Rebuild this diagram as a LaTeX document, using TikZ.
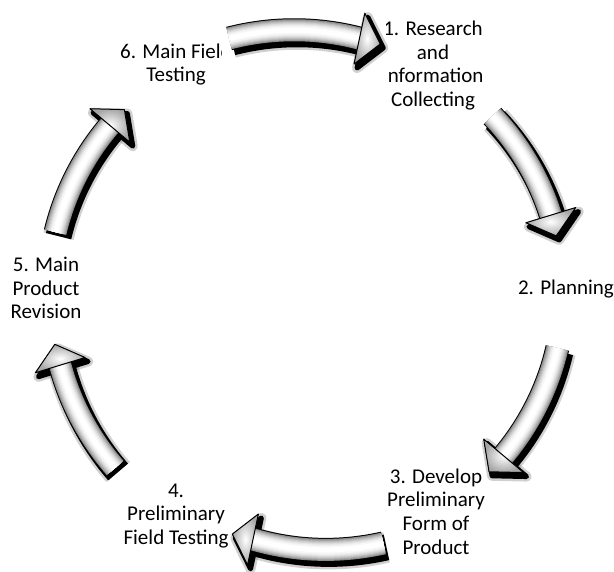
\documentclass[tikz,border=0pt]{standalone}
\usepackage{fontspec}
\setmainfont{Carlito}
\tikzset{
  lbl/.style={font=\fontsize{21}{23.7}\selectfont, align=center, inner sep=0pt, text=black},
  maskbox/.style={fill=white, draw=none},
}
\def\cxx{306}\def\cyy{290}
\newcommand{\spiralplot}{plot[domain=\aA:\aE, samples=40, variable=\t] ({\cxx+(\rA+(\rB-\rA)*(\t-\aA)/(\aB-\aA))*cos(\t)},{\cyy+(\rA+(\rB-\rA)*(\t-\aA)/(\aB-\aA))*sin(\t)})}
\newcommand{\headpath}{({\cxx+(\rB+26)*cos(\aB)},{\cyy+(\rB+26)*sin(\aB)}) -- ({\cxx+\rB*cos(\aT)},{\cyy+\rB*sin(\aT)}) -- ({\cxx+(\rB-26)*cos(\aB)},{\cyy+(\rB-26)*sin(\aB)}) -- cycle}
\newcommand{\cycarrow}[4]{%
  \def\aA{#1}\def\rA{#2}\def\aB{#3}\def\rB{#4}%
  \pgfmathsetmacro{\aE}{#3+1.5}%
  \pgfmathsetmacro{\aT}{#3+4.8}%
  \begin{scope}[shift={(3,4)}]
    \draw[color=black!60, line width=31pt, opacity=0.3] \spiralplot;
    \filldraw[color=black!60, line width=10pt, line join=round, opacity=0.3] \headpath;
    \draw[color=black, line width=26pt] \spiralplot;
    \filldraw[color=black, line width=5pt, line join=round] \headpath;
  \end{scope}
  \draw[color=black, line width=24pt] \spiralplot;
  \foreach \w/\c in {22/black!45, 20/black!36, 18/black!28, 16/black!21, 14/black!15, 12/black!10, 10/black!6, 8/black!3, 5/white}{
    \draw[color=\c, line width=\w pt] \spiralplot;
  }
  \filldraw[draw=black, line width=1pt, line join=round, inner color=white, outer color=black!35] \headpath;
}
\begin{document}
\begin{tikzpicture}[x=1pt, y=-1pt]
  \fill[white] (0,0) rectangle (614,572);
  \useasboundingbox (0,0) rectangle (614,572);
  % labels
  \node[lbl] (l1) at (433,65.5) {1. Research\\and\\Information\\Collecting};
  \node[lbl] (l2) at (566,289.5) {2. Planning};
  \node[lbl] (l3) at (436,511.5) {3. Develop\\Preliminary\\Form of\\Product};
  \node[lbl] (l4) at (176,516) {4.\\Preliminary\\Field Testing};
  \node[lbl] (l5) at (46,288) {5. Main\\Product\\Revision};
  \node[lbl] (l6) at (176,64.5) {6. Main Field\\Testing};
  % white boxes of the arrow pictures
  \fill[maskbox] (222,4) rectangle (386,90);
  \fill[maskbox] (476,93) rectangle (592,252);
  \fill[maskbox] (229,505) rectangle (387,572);
  % arrows
  \cycarrow{253}{263}{282}{257}
  \cycarrow{317}{255}{343}{256}
  \cycarrow{13}{258}{40}{258}
  \cycarrow{73}{265}{102}{255}
  \cycarrow{137}{261}{163}{257}
  \cycarrow{193}{257}{220}{256}
\end{tikzpicture}
\end{document}
